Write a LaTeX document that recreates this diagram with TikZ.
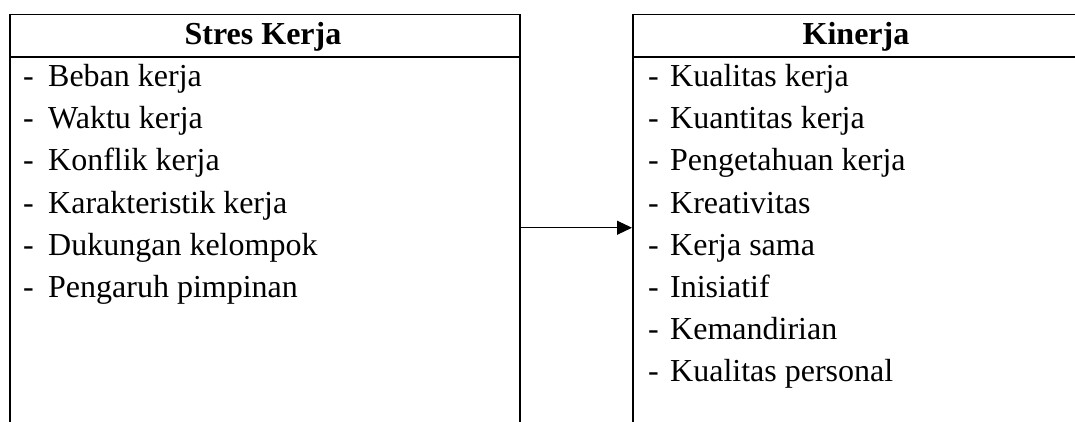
\documentclass[tikz,border=0pt]{standalone}
\usepackage{fontspec}
\setmainfont{Liberation Serif}
\usetikzlibrary{arrows.meta,positioning}

\begin{document}
\begin{tikzpicture}[x=1pt,y=-1pt,
  panel/.style={draw,line width=1.5pt,minimum height=426pt,anchor=north west,inner sep=0pt},
  head/.style={font=\fontsize{32}{42}\selectfont\bfseries,anchor=base,inner sep=0pt},
  item/.style={font=\fontsize{32}{42}\selectfont,anchor=base west,inner sep=0pt}]
  \clip (0,0) rectangle (1075,422);
  % the two panels, open at the bottom
  \node[panel,minimum width=510pt] (stres) at (9,14) {};
  \node[panel,minimum width=446pt] (kinerja) at (632,14) {};
  \draw[line width=1.5pt] ([yshift=-43pt]stres.north west) -- ([yshift=-43pt]stres.north east);
  \draw[line width=1.5pt] ([yshift=-43pt]kinerja.north west) -- ([yshift=-43pt]kinerja.north east);
  \node[head] (stresH) at (263,45) {Stres Kerja};
  \node[head] (kinerjaH) at (856,45) {Kinerja};
  % indicators
  \foreach \t [count=\i] in {Beban kerja, Waktu kerja, Konflik kerja, Karakteristik kerja,
      Dukungan kelompok, Pengaruh pimpinan}
    \node[item] (s\i) at (23,{87+42*(\i-1)}) {\makebox[25pt][l]{-}\t};
  \foreach \t [count=\i] in {Kualitas kerja, Kuantitas kerja, Pengetahuan kerja, Kreativitas,
      Kerja sama, Inisiatif, Kemandirian, Kualitas personal}
    \node[item] (k\i) at (648,{87+42*(\i-1)}) {\makebox[22pt][l]{-}\t};
  \draw[line width=1pt,-{Triangle[length=15pt,width=14pt]}] (stres.east) -- (kinerja.west);
\end{tikzpicture}
\end{document}
